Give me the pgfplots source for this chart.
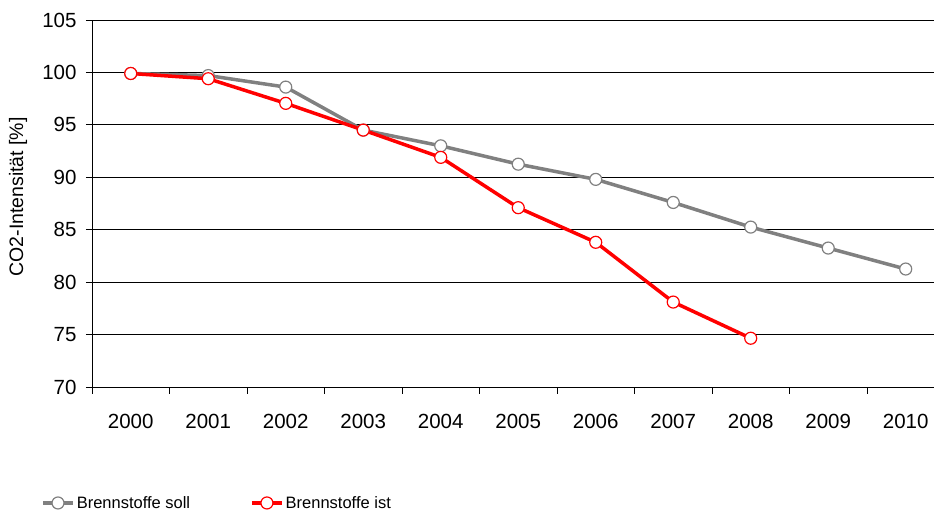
\documentclass[border=0pt]{standalone}
\usepackage{fontspec}
\setmainfont{Liberation Sans}
\usepackage{pgfplots}
\pgfplotsset{compat=1.18}
\definecolor{sollgray}{RGB}{128,128,128}
\definecolor{istred}{RGB}{255,0,0}
\begin{document}
\begin{tikzpicture}
\path[use as bounding box] (-92pt,-123pt) rectangle (842pt,387pt);
\begin{axis}[
  at={(0pt,0pt)}, anchor=south west,
  width=842pt, height=367pt, scale only axis,
  xmin=-0.5, xmax=10.365, ymin=70, ymax=105,
  axis x line*=bottom, axis y line*=left,
  axis line style={-, black, line width=0.8pt},
  ytick={70,75,...,105},
  ymajorgrids, grid style={black, line width=0.8pt},
  xtick={0,1,2,3,4,5,6,7,8,9,10},
  xticklabels={2000,2001,2002,2003,2004,2005,2006,2007,2008,2009,2010},
  major x tick style={draw=none},
  minor xtick={-0.5,0.5,1.5,2.5,3.5,4.5,5.5,6.5,7.5,8.5,9.5},
  tick align=outside, major tick length=6pt, minor tick length=7pt,
  tick style={black, line width=0.8pt},
  tick label style={font=\fontsize{20.5}{24}\selectfont},
  /pgf/number format/assume math mode=true,
  yticklabel style={xshift=-6pt},
  xticklabel style={yshift=-18pt},
  ylabel={CO2-Intensität [\%]},
  every axis y label/.style={at={(axis description cs:-0.0879,0.518)}, rotate=90, anchor=center, font=\fontsize{19.5}{23}\selectfont},
  clip=false,
  legend columns=2,
  legend style={at={(axis description cs:-0.0605,-0.316)}, anchor=west, draw=none, fill=none,
    font=\fontsize{16.5}{19}\selectfont, inner sep=0pt,
    /tikz/every even column/.append style={column sep=58pt}},
  legend cell align=left,
  legend image code/.code={\draw[mark repeat=2, mark phase=2, line width=3.5pt] plot coordinates {(0pt,0pt) (15pt,0pt) (30pt,0pt)};},
]
\addplot[sollgray, line width=3.5pt, mark=*, mark size=6pt,
  mark options={fill=white, draw=sollgray, line width=1.2pt}]
  coordinates {(0,99.9) (1,99.7) (2,98.6) (3,94.5) (4,93.0) (5,91.25) (6,89.8) (7,87.6) (8,85.25) (9,83.25) (10,81.25)};
\addlegendentry{Brennstoffe soll}
\addplot[istred, line width=3.5pt, mark=*, mark size=6pt,
  mark options={fill=white, draw=istred, line width=1.2pt}]
  coordinates {(0,99.9) (1,99.4) (2,97.05) (3,94.5) (4,91.9) (5,87.1) (6,83.8) (7,78.1) (8,74.65)};
\addlegendentry{Brennstoffe ist}
\end{axis}
\end{tikzpicture}
\end{document}
